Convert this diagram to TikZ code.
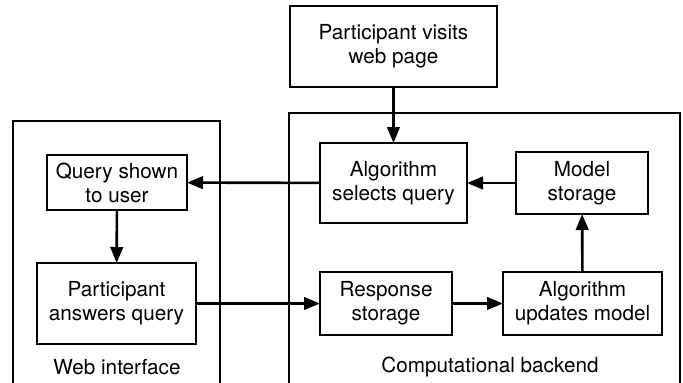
\documentclass[tikz,border=0pt]{standalone}
\usepackage{fontspec}
\setmainfont{TeX Gyre Heros}
\usetikzlibrary{arrows.meta}
\begin{document}
\begin{tikzpicture}[x=1pt,y=-1pt,
  box/.style={draw,line width=1.2pt,inner sep=0pt,outer sep=0pt,align=center,font=\fontsize{20.7}{24}\selectfont},
  lbl/.style={inner sep=0pt,font=\fontsize{20.7}{24}\selectfont},
  frame/.style={draw,line width=2.6pt},
  arr/.style={line width=2.6pt,-{Triangle[length=16pt,width=12.5pt]}}]
\useasboundingbox (0,0) rectangle (683,383);
% outer frames (open at bottom)
\coordinate (wbl) at (13,383);
\coordinate (wtl) at (13,121);
\coordinate (wtr) at (220,121);
\coordinate (wbr) at (220,383);
\draw[frame] (wbl) -- (wtl) -- (wtr) -- (wbr);
\coordinate (bbl) at (289,383);
\coordinate (btl) at (289,113);
\coordinate (btr) at (680,113);
\coordinate (bbr) at (680,383);
\draw[frame] (bbl) -- (btl) -- (btr) -- (bbr);
% nodes
\node[box,minimum width=207pt,minimum height=81pt] (visit) at (393.5,46.5) {Participant visits\\web page};
\node[box,minimum width=147pt,minimum height=80pt] (select) at (393.5,183) {Algorithm\\selects query};
\node[box,minimum width=132pt,minimum height=62pt] (model) at (582,183) {Model\\storage};
\node[box,minimum width=132pt,minimum height=63pt] (resp) at (386,303.5) {Response\\storage};
\node[box,minimum width=159pt,minimum height=63pt] (update) at (582.5,303.5) {Algorithm\\updates model};
\node[box,minimum width=140pt,minimum height=55pt] (query) at (117,182.5) {Query shown\\to user};
\node[box,minimum width=159pt,minimum height=81pt] (answers) at (116.5,303.5) {Participant\\answers query};
\node[lbl] (weblbl) at (117,367) {Web interface};
\node[lbl] (backlbl) at (490,367) {Computational backend};
% arrows
\draw[arr] (visit) -- (select);
\draw[arr] (model) -- (select);
\draw[arr] (select) -- (query);
\draw[arr] (query) -- (answers);
\draw[arr] (answers) -- (resp);
\draw[arr] (resp) -- (update);
\draw[arr] (update) -- (model);
\end{tikzpicture}
\end{document}
